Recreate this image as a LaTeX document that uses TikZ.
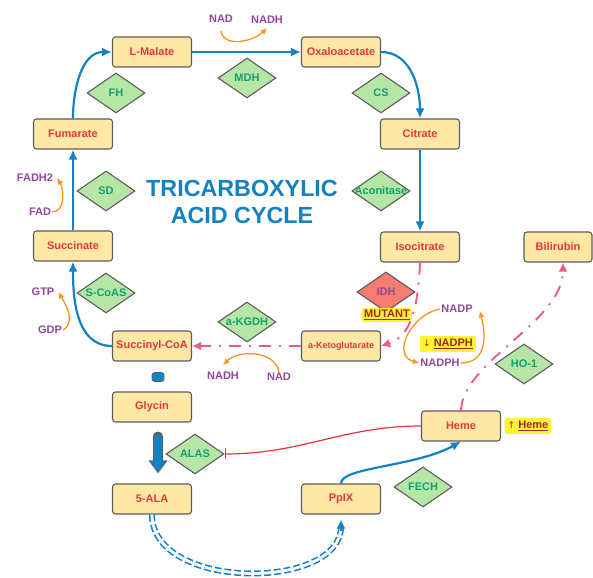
\documentclass[tikz,border=0pt]{standalone}
\usepackage{fontspec}
\setmainfont{Liberation Sans}
\newfontfamily\symfont{DejaVu Sans}
\usetikzlibrary{shapes.geometric,arrows.meta}
\definecolor{boxfill}{HTML}{FFE8A6}
\definecolor{boxline}{HTML}{5C5C5C}
\definecolor{boxtext}{HTML}{E0383D}
\definecolor{enzfill}{HTML}{B5E6A6}
\definecolor{enztext}{HTML}{14A06E}
\definecolor{idhfill}{HTML}{F47C70}
\definecolor{cofpurple}{HTML}{8E4A98}
\definecolor{tcablue}{HTML}{1482C2}
\definecolor{pinkline}{HTML}{EC5A8C}
\definecolor{orangearc}{HTML}{F7941D}
\definecolor{inhred}{HTML}{E2343F}
\definecolor{hiyellow}{HTML}{FFF333}
\definecolor{hitext}{HTML}{A3262A}
\newcommand{\lbl}{\bfseries\fontsize{11}{13}\selectfont}
\newcommand{\Enz}[1]{\makebox[16pt]{#1}}
\newcommand{\Up}{{\symfont\mdseries\fontsize{9}{11}\selectfont ↑}}
\newcommand{\Down}{{\symfont\mdseries\fontsize{9}{11}\selectfont ↓}}

\begin{document}
\begin{tikzpicture}[x=1pt,y=1pt,
  met/.style={rectangle,rounded corners=3pt,draw=boxline,line width=1.1pt,fill=boxfill,
    text=boxtext,minimum width=79pt,minimum height=30pt,inner sep=1pt,font=\lbl},
  enz/.style={diamond,draw=boxline,line width=1.1pt,fill=enzfill,text=enztext,
    minimum width=58pt,minimum height=40pt,inner sep=0pt,font=\lbl},
  cof/.style={text=cofpurple,inner sep=1pt,font=\lbl},
  hilite/.style={fill=hiyellow,rounded corners=2pt,text=hitext,inner sep=3pt,font=\lbl},
  cyc/.style={tcablue,line width=2.2pt,-{Latex[length=10pt,width=9pt]}},
  deg/.style={pinkline,line width=1.9pt,dash pattern=on 12pt off 8pt on 2pt off 8pt,
    -{Latex[length=9pt,width=9pt]}},
  arc/.style={orangearc,line width=1.3pt,-{Latex[length=6.5pt,width=6pt]}}]
\useasboundingbox (0,0) rectangle (593,577);

% TCA cycle
\node[met] (LMal) at (152,525) {L-Malate};
\node[met] (Oxa) at (341,525) {Oxaloacetate};
\node[met] (Fum) at (73,443) {Fumarate};
\node[met] (Cit) at (420,443) {Citrate};
\node[met] (Succ) at (73,331) {Succinate};
\node[met] (Iso) at (420,330) {Isocitrate};
\node[met] (SCoA) at (152,231) {Succinyl-CoA};
\node[met,font=\bfseries\fontsize{9}{11}\selectfont] (AKG) at (341,231) {a-Ketoglutarate};

% heme pathway
\node[met,minimum width=68pt] (Bili) at (558,330) {Bilirubin};
\node[met] (Gly) at (152,170) {Glycin};
\node[met] (ALA) at (152,78) {5-ALA};
\node[met] (PpIX) at (341,78) {PpIX};
\node[met] (Heme) at (461,151) {Heme};

% enzymes
\node[enz] (MDH) at (247,499) {\Enz{MDH}};
\node[enz] (FH) at (116,484) {\Enz{FH}};
\node[enz] (CS) at (381,484) {\Enz{CS}};
\node[enz] (SD) at (106,386) {\Enz{SD}};
\node[enz] (Acon) at (381,386) {\Enz{Aconitase}};
\node[enz] (SCoAS) at (106,284) {\Enz{S-CoAS}};
\node[enz] (KGDH) at (247,255) {\Enz{a-KGDH}};
\node[enz,fill=idhfill,text=cofpurple] (IDH) at (386,285) {\Enz{IDH}};
\node[enz] (HO1) at (524,213) {\Enz{HO-1}};
\node[enz] (ALAS) at (195,123) {\Enz{ALAS}};
\node[enz] (FECH) at (423,90) {\Enz{FECH}};

\node[text=tcablue,align=center,font=\bfseries\fontsize{23.3}{27}\selectfont] (Title)
  at (242,375) {TRICARBOXYLIC\\ACID CYCLE};

% cofactors
\node[cof] (Nad1) at (221,558) {NAD};
\node[cof] (Nadh1) at (267,557) {NADH};
\node[cof] (Fadh2) at (35,399) {FADH2};
\node[cof] (Fad) at (40,365) {FAD};
\node[cof] (Gtp) at (43,285) {GTP};
\node[cof] (Gdp) at (50,247) {GDP};
\node[cof] (Nadh2) at (223,201) {NADH};
\node[cof] (Nad2) at (279,200) {NAD};
\node[cof] (Nadp) at (457,268) {NADP};
\node[cof] (Nadph) at (440,214) {NADPH};

\node[hilite,inner sep=2pt] (Mut) at (387,262) {\underline{MUTANT}};
\node[hilite] (LowNadph) at (448,233) {\Down\ \underline{NADPH}};
\node[hilite] (HighHeme) at (528,151) {\Up\ \underline{Heme}};

\node[draw=boxline,fill=tcablue,rounded corners=2.5pt,minimum width=12pt,minimum height=9pt,
  inner sep=0pt,line width=0.6pt] (Link) at (158,200) {};

% cycle arrows
\path[cyc] (Fum.north) edge[out=90,in=180] (LMal.west);
\path[cyc] (LMal) edge (Oxa);
\path[cyc] (Oxa.east) edge[out=0,in=90] (Cit.north);
\path[cyc] (Cit) edge (Iso);
\path[cyc] (Succ) edge (Fum);
\path[cyc] (SCoA.west) edge[out=180,in=-90] (Succ.south);

% IDH / KGDH steps and heme breakdown
\draw[deg] (Iso.south) .. controls (418,262) and (408,240) .. (AKG.east);
\draw[deg] (AKG) -- (SCoA);
\draw[deg] (Heme.north) .. controls (462,215) and (563,255) .. ([xshift=5pt]Bili.south);

% cofactor arcs
\draw[arc] ([yshift=-7pt]Nad1.south) to[out=-80,in=-135] ([yshift=-3pt]Nadh1.south);
\draw[arc] (Fad.east) to[out=0,in=-60] ([xshift=3pt]Fadh2.east);
\draw[arc] (Gdp.east) to[out=30,in=-60] ([xshift=3pt]Gtp.east);
\draw[arc] (Nad2.north) to[out=100,in=45] ([yshift=6pt]Nadh2.north);
\draw[arc] (Nadp.west) to[out=190,in=165,looseness=1.3] (Nadph.west);
\draw[arc] (Nadph.east) to[out=0,in=-75,looseness=1.2] ([xshift=6pt,yshift=-2pt]Nadp.east);

% heme synthesis
\draw[boxline,line width=10pt,line cap=round,-{Triangle[length=13pt,width=18pt]}]
  ([xshift=6pt,yshift=-14pt]Gly.south) -- ([xshift=6pt,yshift=10pt]ALA.north);
\draw[tcablue,line width=7.6pt,line cap=round,shorten >=1.3pt,-{Triangle[length=11pt,width=15.5pt]}]
  ([xshift=6pt,yshift=-15.2pt]Gly.south) -- ([xshift=6pt,yshift=10pt]ALA.north);
\draw[inhred,line width=1.2pt,-{Bar[width=11pt]}] (Heme.west) to[out=180,in=0] (ALAS.east);
\draw[cyc] (PpIX.north) .. controls (341,110) and (415,110) .. (Heme.south);
\draw[tcablue,line width=1.6pt,double=white,double distance=2.8pt,dash pattern=on 7pt off 3pt,
  shorten >=12pt] (ALA.south) .. controls (152,-14) and (341,-14) .. (PpIX.south);
\draw[tcablue,line width=1.6pt,-{Latex[length=9pt,width=9pt]}]
  ([yshift=-16pt]PpIX.south) -- ([yshift=-5pt]PpIX.south);
\end{tikzpicture}
\end{document}
